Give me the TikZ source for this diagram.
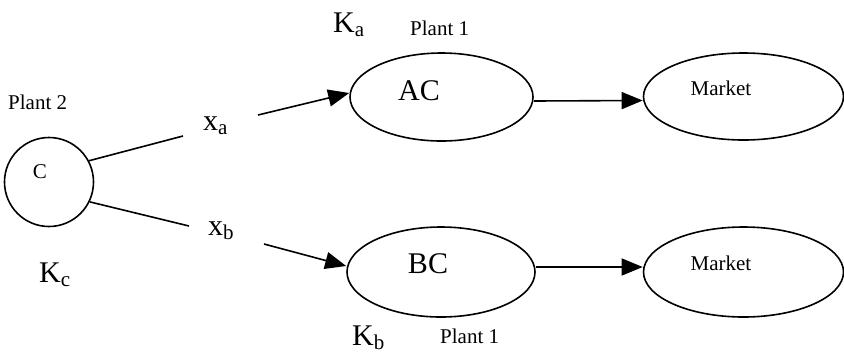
\documentclass[tikz,border=0pt]{standalone}
\usepackage{fontspec}
\setmainfont{Liberation Serif}
\usetikzlibrary{shapes.geometric,arrows.meta}
\newcommand{\bigtxt}{\fontsize{30}{30}\selectfont}
\newcommand{\smalltxt}{\fontsize{21}{21}\selectfont}
\newcommand{\subtx}[1]{\raisebox{-4pt}{\smalltxt #1}}
\begin{document}
\begin{tikzpicture}[x=1pt,y=-1pt,
  outline/.style={draw, line width=1.6pt, inner sep=0pt},
  oval/.style={outline, ellipse},
  ring/.style={outline, circle},
  conn/.style={line width=1.6pt},
  arr/.style={conn, -{Triangle[length=21pt,width=17pt]}},
  bigl/.style={font=\bigtxt, inner sep=0pt},
  smalll/.style={font=\smalltxt, inner sep=0pt},
  txt/.style={anchor=base west, inner sep=0pt}
]
\useasboundingbox (0,0) rectangle (844,360);

% shapes
\node[ring, minimum size=89pt,
  label={[smalll, xshift=-9pt, yshift=10pt]center:C}] (C) at (49,182) {};
\node[oval, minimum width=183pt, minimum height=88pt,
  label={[bigl, xshift=-22.5pt, yshift=6pt]center:AC}] (AC) at (441.5,97) {};
\node[oval, minimum width=200pt, minimum height=87pt,
  label={[smalll, xshift=-22.5pt, yshift=8.5pt]center:Market}] (M1) at (743.5,96.5) {};
\node[oval, minimum width=188pt, minimum height=90pt,
  label={[bigl, xshift=-13pt, yshift=8pt]center:BC}] (BC) at (441,272) {};
\node[oval, minimum width=200pt, minimum height=90pt,
  label={[smalll, xshift=-22.5pt, yshift=9pt]center:Market}] (M2) at (743.5,272) {};

% texts
\node[txt, font=\smalltxt] (P2) at (8,109) {Plant 2};
\node[txt, font=\bigtxt] (Kc) at (39,282) {K\subtx{c}};
\node[txt, font=\bigtxt] (XA) at (203,130) {x\subtx{a}};
\node[txt, font=\bigtxt] (XB) at (208,235) {x\subtx{b}};
\node[txt, font=\bigtxt] (Ka) at (333,32) {K\subtx{a}};
\node[txt, font=\smalltxt] (P1a) at (410,35) {Plant 1};
\node[txt, font=\bigtxt] (Kb) at (352,345) {K\subtx{b}};
\node[txt, font=\smalltxt] (P1b) at (440,343) {Plant 1};

% free ends
\coordinate (ca) at (183,136);
\coordinate (cb) at (189,226);
\coordinate (ta) at (258,115);
\coordinate (tb) at (264,244);

% connectors
\draw[conn] (C.28) -- (ca);
\draw[conn] (C.-26) -- (cb);
\draw[arr] (ta) -- ([yshift=4pt]AC.west);
\draw[arr] (tb) -- ([yshift=6pt]BC.west);
\draw[arr] ([yshift=-4pt]AC.east) -- ([yshift=-4pt]M1.west);
\draw[arr] ([yshift=5pt]BC.east) -- ([yshift=5pt]M2.west);
\end{tikzpicture}
\end{document}
